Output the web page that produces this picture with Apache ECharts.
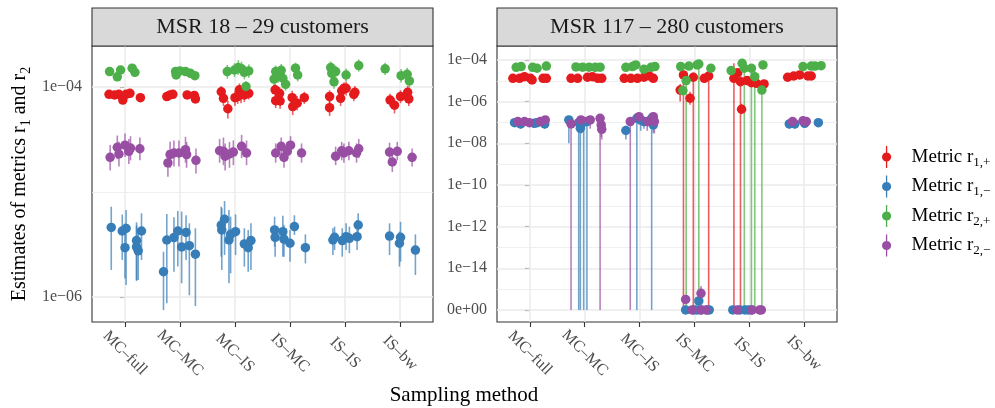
<!DOCTYPE html>
<html>
<head>
<meta charset="utf-8">
<script src="https://cdn.jsdelivr.net/npm/echarts@6/dist/echarts.min.js"></script>
<style>
  html, body { margin: 0; padding: 0; background: #fff; }
  #chart { width: 995px; height: 408px; }
</style>
</head>
<body>
<div id="chart"></div>
<script>
// sampling methods on the x axis
const methods = ['MC\u2013full', 'MC\u2013MC', 'MC\u2013IS', 'IS\u2013MC', 'IS\u2013IS', 'IS\u2013bw']
const panelTitles = ['MSR 18 \u2013 29 customers', 'MSR 117 \u2013 280 customers']

// each row: [method index, jitter, estimate, lower, upper]
const smallR1Plus = [
  [0, -0.29, 8.5e-5, 8.0e-5, 9.0e-5], [0, -0.19, 8.4e-5, 7.9e-5, 8.9e-5], [0, -0.11, 8.5e-5, 8.0e-5, 9.0e-5],
  [0, -0.04, 7.5e-5, 6.9e-5, 8.1e-5], [0, 0.02, 8.5e-5, 8.0e-5, 9.1e-5], [0, 0.09, 8.7e-5, 8.2e-5, 9.2e-5],
  [0, 0.28, 7.9e-5, 7.4e-5, 8.4e-5],
  [1, -0.24, 8.1e-5, 7.6e-5, 8.6e-5], [1, -0.18, 8.4e-5, 7.9e-5, 8.9e-5], [1, -0.13, 8.5e-5, 8.0e-5, 9.0e-5],
  [1, 0.13, 8.4e-5, 7.9e-5, 8.9e-5], [1, 0.26, 8.3e-5, 7.8e-5, 8.8e-5], [1, 0.28, 7.7e-5, 7.2e-5, 8.2e-5],
  [2, -0.25, 9.0e-5, 7.8e-5, 1.02e-4], [2, -0.21, 7.8e-5, 6.6e-5, 9.0e-5], [2, -0.13, 6.2e-5, 5.0e-5, 7.4e-5],
  [2, 0.0, 7.9e-5, 6.6e-5, 9.2e-5], [2, 0.05, 8.1e-5, 6.9e-5, 9.6e-5], [2, 0.08, 9.4e-5, 8.0e-5, 1.08e-4],
  [2, 0.11, 8.5e-5, 7.0e-5, 1.0e-4], [2, 0.17, 8.4e-5, 7.2e-5, 9.7e-5], [2, 0.25, 8.7e-5, 7.6e-5, 9.9e-5],
  [3, -0.27, 9.4e-5, 8.2e-5, 1.07e-4], [3, -0.26, 7.4e-5, 6.3e-5, 8.6e-5], [3, -0.19, 8.7e-5, 7.6e-5, 1.0e-4],
  [3, -0.18, 7.35e-5, 6.2e-5, 8.6e-5], [3, 0.04, 7.9e-5, 6.8e-5, 9.2e-5], [3, 0.05, 6.5e-5, 5.4e-5, 7.7e-5],
  [3, 0.13, 7.0e-5, 6.0e-5, 8.2e-5], [3, 0.26, 7.9e-5, 6.9e-5, 9.0e-5],
  [4, -0.28, 8.1e-5, 7.0e-5, 9.3e-5], [4, -0.28, 6.35e-5, 5.3e-5, 7.4e-5], [4, -0.08, 7.8e-5, 6.6e-5, 9.1e-5],
  [4, -0.06, 9.2e-5, 8.0e-5, 1.05e-4], [4, -0.02, 9.7e-5, 8.5e-5, 1.1e-4], [4, 0.02, 9.7e-5, 8.3e-5, 1.12e-4],
  [4, 0.16, 8.5e-5, 7.3e-5, 9.8e-5], [4, 0.18, 8.9e-5, 7.7e-5, 1.02e-4],
  [5, -0.18, 7.5e-5, 6.5e-5, 8.6e-5], [5, -0.10, 6.7e-5, 5.6e-5, 7.8e-5], [5, 0.01, 8.1e-5, 7.0e-5, 9.3e-5],
  [5, 0.14, 8.9e-5, 7.6e-5, 1.03e-4], [5, 0.16, 7.7e-5, 6.6e-5, 8.9e-5]
]
const smallR1Minus = [
  [0, -0.25, 4.6e-6, 1.81e-6, 7.25e-6], [0, -0.05, 4.25e-6, 2.25e-6, 6.1e-6], [0, 0.02, 4.5e-6, 1.3e-6, 6.74e-6],
  [0, 0.0, 2.95e-6, 1.5e-6, 5.0e-6], [0, 0.21, 3.45e-6, 1.42e-6, 5.14e-6], [0, 0.21, 3.0e-6, 1.45e-6, 4.8e-6],
  [0, 0.24, 2.75e-6, 1.45e-6, 4.5e-6], [0, 0.30, 4.25e-6, 2.25e-6, 6.27e-6],
  [1, -0.30, 1.74e-6, 7.5e-7, 2.7e-6], [1, -0.24, 3.49e-6, 8.7e-7, 6.17e-6], [1, -0.11, 3.68e-6, 1.74e-6, 5.74e-6],
  [1, -0.04, 4.25e-6, 1.95e-6, 6.6e-6], [1, 0.03, 3.0e-6, 1.35e-6, 6.5e-6], [1, 0.11, 4.12e-6, 2.25e-6, 6.0e-6],
  [1, 0.17, 3.08e-6, 1.04e-6, 5.03e-6], [1, 0.28, 2.56e-6, 8.2e-7, 4.51e-6],
  [2, -0.25, 4.85e-6, 2.42e-6, 7.25e-6], [2, -0.24, 4.35e-6, 1.81e-6, 7.0e-6], [2, -0.19, 5.5e-6, 2.51e-6, 8.2e-6],
  [2, -0.11, 3.49e-6, 1.35e-6, 6.74e-6], [2, -0.08, 3.95e-6, 1.68e-6, 5.82e-6], [2, 0.01, 4.19e-6, 2.51e-6, 6.12e-6],
  [2, 0.17, 3.2e-6, 1.95e-6, 4.51e-6], [2, 0.24, 2.95e-6, 1.74e-6, 4.35e-6], [2, 0.29, 3.45e-6, 1.81e-6, 5.03e-6],
  [3, -0.28, 4.35e-6, 3.01e-6, 5.82e-6], [3, -0.27, 3.7e-6, 2.42e-6, 4.68e-6], [3, -0.13, 4.19e-6, 2.42e-6, 5.95e-6],
  [3, -0.11, 3.55e-6, 2.42e-6, 4.85e-6], [3, 0.0, 3.25e-6, 2.17e-6, 4.35e-6], [3, 0.08, 4.68e-6, 3.9e-6, 6.0e-6],
  [3, 0.28, 2.95e-6, 2.09e-6, 3.95e-6],
  [4, -0.22, 3.49e-6, 2.51e-6, 4.51e-6], [4, -0.19, 3.7e-6, 2.8e-6, 4.68e-6], [4, -0.05, 3.45e-6, 2.42e-6, 4.51e-6],
  [4, 0.02, 3.75e-6, 2.8e-6, 5.03e-6], [4, 0.08, 3.62e-6, 2.61e-6, 4.68e-6], [4, 0.22, 3.75e-6, 2.8e-6, 5.4e-6],
  [4, 0.24, 4.85e-6, 3.75e-6, 6.27e-6],
  [5, -0.19, 3.8e-6, 2.51e-6, 5.03e-6], [5, 0.01, 3.7e-6, 2.17e-6, 5.2e-6], [5, -0.01, 3.25e-6, 1.95e-6, 4.19e-6],
  [5, 0.28, 2.8e-6, 1.62e-6, 3.95e-6]
]
const smallR2Plus = [
  [0, -0.28, 1.40e-4, 1.32e-4, 1.48e-4], [0, -0.14, 1.25e-4, 1.18e-4, 1.32e-4], [0, -0.08, 1.45e-4, 1.37e-4, 1.53e-4],
  [0, 0.13, 1.51e-4, 1.43e-4, 1.6e-4], [0, 0.18, 1.38e-4, 1.30e-4, 1.46e-4],
  [1, -0.08, 1.40e-4, 1.33e-4, 1.48e-4], [1, -0.07, 1.30e-4, 1.23e-4, 1.38e-4], [1, 0.0, 1.42e-4, 1.35e-4, 1.5e-4],
  [1, 0.10, 1.40e-4, 1.33e-4, 1.48e-4], [1, 0.19, 1.35e-4, 1.28e-4, 1.43e-4], [1, 0.27, 1.28e-4, 1.21e-4, 1.36e-4],
  [2, -0.14, 1.40e-4, 1.2e-4, 1.62e-4], [2, -0.01, 1.45e-4, 1.24e-4, 1.68e-4], [2, 0.06, 1.53e-4, 1.3e-4, 1.8e-4],
  [2, 0.12, 1.49e-4, 1.27e-4, 1.74e-4], [2, 0.17, 1.38e-4, 1.18e-4, 1.6e-4], [2, 0.20, 1.01e-4, 0.9e-4, 1.14e-4],
  [2, 0.25, 1.42e-4, 1.22e-4, 1.64e-4],
  [3, -0.29, 1.19e-4, 1.02e-4, 1.38e-4], [3, -0.26, 1.40e-4, 1.2e-4, 1.6e-4], [3, -0.21, 1.28e-4, 1.1e-4, 1.47e-4],
  [3, -0.16, 1.44e-4, 1.25e-4, 1.65e-4], [3, -0.13, 1.21e-4, 1.04e-4, 1.4e-4], [3, -0.08, 1.06e-4, 0.92e-4, 1.22e-4],
  [3, 0.10, 1.51e-4, 1.33e-4, 1.7e-4], [3, 0.14, 1.30e-4, 1.13e-4, 1.48e-4],
  [4, -0.26, 1.53e-4, 1.33e-4, 1.75e-4], [4, -0.24, 1.35e-4, 1.16e-4, 1.56e-4], [4, -0.20, 1.12e-4, 0.96e-4, 1.3e-4],
  [4, -0.17, 1.40e-4, 1.22e-4, 1.6e-4], [4, 0.02, 1.30e-4, 1.13e-4, 1.5e-4], [4, 0.25, 1.60e-4, 1.4e-4, 1.83e-4],
  [5, -0.27, 1.49e-4, 1.3e-4, 1.7e-4], [5, 0.02, 1.28e-4, 1.1e-4, 1.48e-4], [5, 0.13, 1.32e-4, 1.14e-4, 1.52e-4],
  [5, 0.17, 1.14e-4, 0.98e-4, 1.32e-4]
]
const smallR2Minus = [
  [0, -0.27, 2.14e-5, 1.6e-5, 2.8e-5], [0, -0.14, 2.66e-5, 2.05e-5, 3.45e-5], [0, -0.11, 2.30e-5, 1.75e-5, 3.0e-5],
  [0, 0.0, 2.79e-5, 2.15e-5, 3.6e-5], [0, 0.07, 2.44e-5, 1.85e-5, 3.2e-5], [0, 0.10, 2.62e-5, 2.0e-5, 3.4e-5],
  [0, 0.27, 2.58e-5, 2.0e-5, 3.3e-5],
  [1, -0.22, 1.89e-5, 1.4e-5, 2.5e-5], [1, -0.18, 2.27e-5, 1.7e-5, 3.0e-5], [1, -0.11, 2.35e-5, 1.75e-5, 3.1e-5],
  [1, -0.02, 2.35e-5, 1.75e-5, 3.1e-5], [1, 0.10, 2.53e-5, 1.9e-5, 3.35e-5], [1, 0.12, 2.27e-5, 1.7e-5, 3.0e-5],
  [1, 0.29, 2.0e-5, 1.5e-5, 2.6e-5],
  [2, -0.28, 2.47e-5, 1.9e-5, 3.2e-5], [2, -0.21, 2.44e-5, 1.8e-5, 3.3e-5], [2, -0.18, 2.19e-5, 1.6e-5, 2.9e-5],
  [2, -0.10, 2.30e-5, 1.7e-5, 3.0e-5], [2, -0.03, 2.40e-5, 1.8e-5, 3.1e-5], [2, 0.12, 2.72e-5, 2.1e-5, 3.5e-5],
  [2, 0.21, 2.35e-5, 1.8e-5, 3.1e-5],
  [3, -0.26, 2.35e-5, 1.9e-5, 2.9e-5], [3, -0.16, 2.72e-5, 2.2e-5, 3.3e-5], [3, -0.11, 2.14e-5, 1.7e-5, 2.7e-5],
  [3, -0.05, 2.44e-5, 2.0e-5, 3.0e-5], [3, 0.01, 2.79e-5, 2.3e-5, 3.4e-5], [3, 0.21, 2.35e-5, 1.9e-5, 2.9e-5],
  [4, -0.17, 2.19e-5, 1.8e-5, 2.7e-5], [4, -0.06, 2.47e-5, 2.0e-5, 3.0e-5], [4, -0.02, 2.35e-5, 1.9e-5, 2.9e-5],
  [4, 0.07, 2.47e-5, 2.0e-5, 3.0e-5], [4, 0.21, 2.35e-5, 1.9e-5, 2.9e-5], [4, 0.25, 2.58e-5, 2.1e-5, 3.2e-5],
  [5, -0.19, 2.40e-5, 1.95e-5, 2.95e-5], [5, -0.14, 1.93e-5, 1.55e-5, 2.4e-5], [5, -0.05, 2.44e-5, 2.0e-5, 3.0e-5],
  [5, 0.22, 2.14e-5, 1.75e-5, 2.6e-5]
]

const largeR1Plus = [
  [0, -0.31, 1.32e-5, 1.15e-5, 1.5e-5], [0, -0.19, 1.32e-5, 1.15e-5, 1.5e-5], [0, -0.10, 1.58e-5, 1.38e-5, 1.8e-5],
  [0, 0.01, 1.32e-5, 1.15e-5, 1.5e-5], [0, 0.04, 1.1e-5, 0.95e-5, 1.26e-5], [0, 0.24, 1.32e-5, 1.15e-5, 1.5e-5],
  [0, 0.30, 1.32e-5, 1.15e-5, 1.5e-5],
  [1, -0.25, 1.32e-5, 1.15e-5, 1.5e-5], [1, -0.13, 1.32e-5, 1.15e-5, 1.5e-5], [1, 0.05, 1.48e-5, 1.3e-5, 1.7e-5],
  [1, 0.14, 1.58e-5, 1.38e-5, 1.8e-5], [1, 0.24, 1.32e-5, 1.15e-5, 1.5e-5], [1, 0.31, 1.32e-5, 1.15e-5, 1.5e-5],
  [2, -0.28, 1.32e-5, 1.15e-5, 1.5e-5], [2, -0.16, 1.32e-5, 1.15e-5, 1.5e-5], [2, -0.04, 1.32e-5, 1.15e-5, 1.5e-5],
  [2, 0.08, 1.48e-5, 1.3e-5, 1.7e-5], [2, 0.18, 1.7e-5, 1.5e-5, 1.95e-5], [2, 0.25, 1.32e-5, 1.15e-5, 1.5e-5],
  [3, -0.26, 3.6e-6, 1.0e-6, 7.0e-6], [3, -0.20, 1.9e-5, 0, 3.1e-5], [3, -0.08, 1.45e-6, 7e-7, 3e-6],
  [3, -0.02, 1.48e-5, 0, 2.5e-5], [3, 0.18, 1.32e-5, 1.1e-5, 1.6e-5], [3, 0.26, 1.7e-5, 0, 2.5e-5],
  [4, -0.28, 1.32e-5, 0, 6.9e-5], [4, -0.21, 2.46e-5, 1.5e-5, 3.5e-5], [4, -0.16, 9.1e-6, 0, 4.0e-5],
  [4, -0.14, 4.3e-7, 2.5e-7, 8e-7], [4, -0.04, 1.02e-5, 8e-6, 1.3e-5], [4, 0.04, 8.1e-6, 6.5e-6, 1.0e-5],
  [4, 0.13, 7.6e-6, 6e-6, 9.5e-6], [4, 0.27, 7.1e-6, 5.7e-6, 9e-6],
  [5, -0.30, 1.48e-5, 1.3e-5, 1.7e-5], [5, -0.19, 1.7e-5, 1.5e-5, 1.95e-5], [5, -0.08, 1.9e-5, 1.65e-5, 2.15e-5],
  [5, 0.07, 1.7e-5, 1.5e-5, 1.95e-5], [5, 0.13, 1.7e-5, 1.5e-5, 1.95e-5]
]
const largeR1Minus = [
  [0, -0.28, 9.8e-8, 6e-8, 1.4e-7], [0, -0.17, 8.5e-8, 5e-8, 1.2e-7], [0, 0.08, 9.1e-8, 5.5e-8, 1.3e-7],
  [0, 0.13, 9.8e-8, 6e-8, 1.4e-7], [0, 0.27, 8.5e-8, 5e-8, 1.2e-7],
  [1, -0.29, 1.32e-7, 1e-8, 1.8e-7], [1, -0.11, 9.8e-8, 0, 1.4e-7], [1, -0.08, 5.2e-8, 0, 9e-8],
  [1, -0.06, 8.5e-8, 3e-8, 1.3e-7], [1, -0.02, 1.1e-7, 0, 1.6e-7], [1, 0.04, 1.1e-7, 0, 1.5e-7],
  [2, -0.25, 4.1e-8, 1.5e-8, 7e-8], [2, -0.05, 1.58e-7, 0, 2.2e-7], [2, 0.02, 1.32e-7, 4e-8, 1.9e-7],
  [2, 0.08, 1.1e-7, 5e-8, 1.6e-7], [2, 0.22, 1.58e-7, 0, 2.2e-7], [2, 0.25, 7.6e-8, 3e-8, 1.1e-7],
  [3, -0.16, 0, 0, 0], [3, -0.01, 0, 0, 0], [3, 0.05, 0, 0, 0], [3, 0.08, 1.7e-16, 1e-16, 2.5e-16],
  [3, 0.11, 0, 0, 0], [3, 0.24, 0, 0, 0], [3, 0.27, 0, 0, 0],
  [4, -0.30, 0, 0, 0], [4, -0.17, 0, 0, 0], [4, -0.08, 0, 0, 0], [4, -0.02, 0, 0, 0], [4, 0.04, 0, 0, 0],
  [5, -0.27, 8.5e-8, 5e-8, 1.2e-7], [5, -0.17, 8.5e-8, 5e-8, 1.2e-7], [5, 0.01, 9.1e-8, 5.5e-8, 1.3e-7],
  [5, 0.26, 9.8e-8, 6e-8, 1.4e-7]
]
const largeR2Plus = [
  [0, -0.25, 4.45e-5, 3.9e-5, 5.1e-5], [0, -0.16, 4.8e-5, 4.2e-5, 5.5e-5], [0, 0.05, 4.45e-5, 3.9e-5, 5.1e-5],
  [0, 0.13, 4.0e-5, 3.5e-5, 4.6e-5], [0, 0.30, 5.1e-5, 4.5e-5, 5.8e-5],
  [1, -0.16, 4.6e-5, 4.0e-5, 5.3e-5], [1, -0.04, 4.5e-5, 3.9e-5, 5.2e-5], [1, 0.08, 4.5e-5, 3.9e-5, 5.2e-5],
  [1, 0.19, 4.45e-5, 3.9e-5, 5.1e-5], [1, 0.28, 4.5e-5, 3.9e-5, 5.2e-5],
  [2, -0.25, 4.45e-5, 3.9e-5, 5.1e-5], [2, -0.13, 4.8e-5, 4.2e-5, 5.5e-5], [2, -0.07, 5.75e-5, 5.0e-5, 6.6e-5],
  [2, 0.08, 3.6e-5, 3.1e-5, 4.1e-5], [2, 0.21, 4.45e-5, 3.9e-5, 5.1e-5], [2, 0.28, 4.8e-5, 4.2e-5, 5.5e-5],
  [3, -0.25, 4.8e-5, 4.2e-5, 5.5e-5], [3, -0.21, 3.4e-6, 2.0e-6, 5.5e-6], [3, -0.15, 1.02e-5, 0, 2.0e-5],
  [3, -0.10, 5.1e-5, 4.4e-5, 5.9e-5], [3, 0.05, 5.75e-5, 5.0e-5, 6.6e-5], [3, 0.08, 6.4e-5, 0, 8.5e-5],
  [3, 0.30, 4.0e-5, 3.5e-5, 4.6e-5],
  [4, -0.33, 3.1e-5, 2.4e-5, 4.0e-5], [4, -0.13, 6.9e-5, 3.0e-5, 1.0e-4], [4, -0.09, 4.0e-5, 0, 7.0e-5],
  [4, 0.04, 4.0e-5, 0, 6.0e-5], [4, 0.10, 1.58e-5, 0, 3.0e-5], [4, 0.23, 3.6e-6, 0, 8.0e-6],
  [4, 0.25, 5.75e-5, 4.3e-5, 7.5e-5],
  [5, -0.02, 4.8e-5, 4.2e-5, 5.5e-5], [5, 0.13, 5.1e-5, 4.5e-5, 5.8e-5], [5, 0.20, 5.1e-5, 4.5e-5, 5.8e-5],
  [5, 0.31, 5.3e-5, 4.6e-5, 6.0e-5]
]
const largeR2Minus = [
  [0, -0.22, 1.1e-7, 7e-8, 1.5e-7], [0, -0.10, 1.1e-7, 7e-8, 1.5e-7], [0, -0.01, 9.8e-8, 6e-8, 1.4e-7],
  [0, 0.19, 1.1e-7, 7e-8, 1.5e-7], [0, 0.28, 1.32e-7, 8e-8, 1.8e-7],
  [1, -0.25, 8.5e-8, 0, 1.3e-7], [1, -0.07, 1.32e-7, 6e-8, 1.9e-7], [1, 0.10, 1.32e-7, 5e-8, 1.9e-7],
  [1, 0.28, 1.58e-7, 0, 2.2e-7], [1, 0.30, 7.6e-8, 2e-8, 1.2e-7], [1, 0.31, 4.7e-8, 1.5e-8, 8e-8],
  [2, -0.17, 1.1e-7, 0, 1.6e-7], [2, -0.01, 1.9e-7, 8e-8, 2.6e-7], [2, 0.14, 1.1e-7, 4e-8, 1.6e-7],
  [2, 0.25, 1.9e-7, 1e-7, 2.6e-7], [2, 0.27, 1.1e-7, 3e-8, 1.6e-7],
  [3, -0.16, 2.2e-16, 1.2e-16, 3.5e-16], [3, -0.04, 0, 0, 0], [3, 0.12, 5.3e-16, 3.4e-16, 1.3e-15],
  [3, 0.13, 0, 0, 0], [3, 0.21, 0, 0, 0],
  [4, -0.22, 0, 0, 0], [4, 0.05, 0, 0, 0], [4, 0.19, 0, 0, 0], [4, 0.22, 0, 0, 0],
  [5, -0.21, 1.1e-7, 7e-8, 1.5e-7], [5, -0.02, 1.2e-7, 8e-8, 1.6e-7], [5, 0.04, 1.1e-7, 7e-8, 1.5e-7]
]

// tick / grid positions, in decades
const leftLabelTicks = [-6, -4]
const leftMinorGrid = [-5]
const rightLabelTicks = [-16, -14, -12, -10, -8, -6, -4]
const rightMinorGrid = [-15, -13, -11, -9, -7, -5]
const methodTicks = [0, 1, 2, 3, 4, 5]

const FONT = 'Liberation Serif'
const ZERO_SHIFT = 1e-16 // the right panel shows 0 on the log scale at 1e-16
const lg = v => Math.log10(v + ZERO_SHIFT)

const metrics = [
  { name: 'r1p', sub: '1,+', color: '#E41A1C', data: [smallR1Plus, largeR1Plus] },
  { name: 'r1m', sub: '1,\u2212', color: '#377EB8', data: [smallR1Minus, largeR1Minus] },
  { name: 'r2p', sub: '2,+', color: '#4DAF4A', data: [smallR2Plus, largeR2Plus] },
  { name: 'r2m', sub: '2,\u2212', color: '#984EA3', data: [smallR2Minus, largeR2Minus] }
]

const panels = [
  { left: 92, width: 341, yMin: -6.238, yMax: -3.61, labels: leftLabelTicks, minor: leftMinorGrid },
  { left: 497, width: 340, yMin: -16.58, yMax: -3.33, labels: rightLabelTicks, minor: rightMinorGrid }
]
const TOP = 46, HEIGHT = 276

function tickLabel(v) {
  const e = Math.round(v)
  if (e <= -16) return '0e+00'
  return '1e\u2212' + String(-e).padStart(2, '0')
}

const series = []

// grid lines (drawn under everything)
panels.forEach((p, i) => {
  const lines = []
  p.labels.forEach(v => lines.push({ yAxis: v, lineStyle: { width: 1.5 } }))
  p.minor.forEach(v => lines.push({ yAxis: v, lineStyle: { width: 0.8 } }))
  methodTicks.forEach(v => lines.push({ xAxis: v, lineStyle: { width: 1.5 } }))
  series.push({
    type: 'line', xAxisIndex: i, yAxisIndex: i, data: [], silent: true,
    markLine: {
      silent: true, z: 1, symbol: ['none', 'none'], label: { show: false },
      lineStyle: { color: '#ebebeb', type: 'solid', width: 1.5 },
      emphasis: { disabled: true },
      data: lines
    }
  })
})

// error bars
panels.forEach((p, i) => {
  metrics.forEach(m => {
    series.push({
      type: 'custom', xAxisIndex: i, yAxisIndex: i, z: 3, silent: true,
      encode: { x: 0, y: [1, 2] },
      data: m.data[i].map(d => [d[0] + d[1], lg(d[3]), lg(d[4])]),
      renderItem(params, api) {
        const a = api.coord([api.value(0), api.value(1)])
        const b = api.coord([api.value(0), api.value(2)])
        return {
          type: 'line',
          shape: { x1: a[0], y1: a[1], x2: b[0], y2: b[1] },
          style: { stroke: m.color, lineWidth: 1.6, opacity: 0.7 }
        }
      }
    })
  })
})

// points
panels.forEach((p, i) => {
  metrics.forEach(m => {
    series.push({
      type: 'scatter', name: m.name, xAxisIndex: i, yAxisIndex: i, z: 4,
      symbol: 'circle', symbolSize: 9.5,
      itemStyle: { color: m.color, opacity: 1 },
      emphasis: { disabled: true },
      data: m.data[i].map(d => [d[0] + d[1], lg(d[2])])
    })
  })
})

const grid = panels.map(p => ({
  left: p.left, top: TOP, width: p.width, height: HEIGHT,
  show: true, backgroundColor: '#fff', borderColor: '#333', borderWidth: 1.1
}))

const xAxis = panels.map((p, i) => ({
  type: 'value', gridIndex: i, min: -0.6, max: 5.6,
  axisLine: { show: false },
  splitLine: { show: false },
  axisTick: { show: true, customValues: methodTicks, length: 5, lineStyle: { color: '#333', width: 1.1 } },
  axisLabel: {
    customValues: methodTicks,
    formatter: v => methods[Math.round(v)],
    rotate: -45, align: 'center', verticalAlign: 'middle', margin: 31,
    color: '#4d4d4d', fontFamily: FONT, fontSize: 16
  }
}))

const yAxis = panels.map((p, i) => ({
  type: 'value', gridIndex: i, min: p.yMin, max: p.yMax,
  axisLine: { show: false },
  splitLine: { show: false },
  axisTick: { show: true, customValues: p.labels, length: 5, lineStyle: { color: '#333', width: 1.1 } },
  axisLabel: {
    customValues: p.labels, formatter: tickLabel, margin: 10,
    color: '#4d4d4d', fontFamily: FONT, fontSize: 16
  }
}))

const graphic = []
panels.forEach((p, i) => {
  graphic.push({
    type: 'rect', shape: { x: p.left, y: 8, width: p.width, height: 38 },
    style: { fill: '#d9d9d9', stroke: '#333', lineWidth: 1.1 }, z: 10
  })
  graphic.push({
    type: 'text', x: p.left + p.width / 2, y: 27, z: 11,
    style: { text: panelTitles[i], fill: '#1a1a1a', fontFamily: FONT, fontSize: 22, align: 'center', verticalAlign: 'middle' }
  })
})
graphic.push({
  type: 'text', x: 20, y: 184, rotation: Math.PI / 2,
  style: {
    text: '{a|Estimates of metrics r}{s|1}{a| and r}{s|2}',
    align: 'center', verticalAlign: 'middle', fill: '#000',
    rich: {
      a: { fontFamily: FONT, fontSize: 20, lineHeight: 26, fill: '#000' },
      s: { fontFamily: FONT, fontSize: 14, lineHeight: 14, verticalAlign: 'bottom', fill: '#000' }
    }
  }
})
graphic.push({
  type: 'text', x: 464, y: 395,
  style: { text: 'Sampling method', fill: '#000', fontFamily: FONT, fontSize: 21, align: 'center', verticalAlign: 'middle' }
})

const legendIcon = 'path://M4.3,0 L5.7,0 L5.7,24 L4.3,24 Z M0,12 A5,5 0 1,1 10,12 A5,5 0 1,1 0,12 Z'

const chart = echarts.init(document.getElementById('chart'))
chart.setOption({
  animation: false,
  backgroundColor: '#fff',
  grid, xAxis, yAxis, series, graphic,
  legend: {
    orient: 'vertical', left: 877, top: 141,
    itemWidth: 40, itemHeight: 22, itemGap: 6.5,
    symbolKeepAspect: true, icon: legendIcon, selectedMode: false,
    data: metrics.map(m => m.name),
    formatter: name => '{a|Metric r}{s|' + metrics.find(m => m.name === name).sub + '}',
    textStyle: {
      color: '#000', fontFamily: FONT, fontSize: 19,
      rich: {
        a: { fontFamily: FONT, fontSize: 19, lineHeight: 24, color: '#000' },
        s: { fontFamily: FONT, fontSize: 13, lineHeight: 13, verticalAlign: 'bottom', color: '#000' }
      }
    }
  }
})
</script>
</body>
</html>
